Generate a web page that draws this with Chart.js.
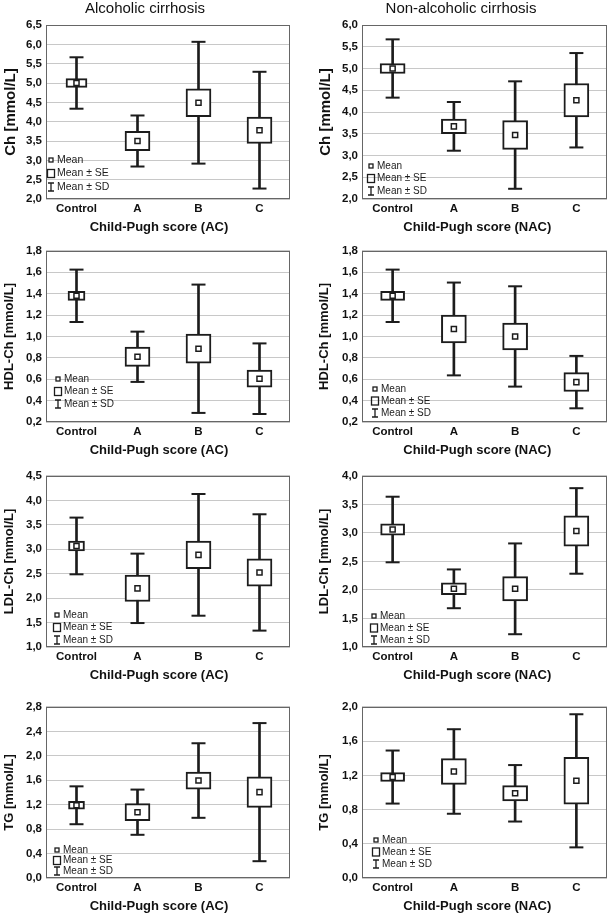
<!DOCTYPE html>
<html>
<head>
<meta charset="utf-8">
<title>Lipids by Child-Pugh score</title>
<script src="https://cdn.jsdelivr.net/npm/chart.js@4.4.1/dist/chart.umd.min.js"></script>
<style>
  html, body { margin: 0; padding: 0; background: #fff; }
  body { width: 610px; height: 913px; overflow: hidden; position: relative; }
  .panel { position: absolute; }
</style>
</head>
<body>
<script>
// ---- data (mean, SE, SD per group) ----
const groups = ['Control', 'A', 'B', 'C'];

const chAcMean = [5.00, 3.50, 4.49, 3.78];
const chAcSe   = [0.115, 0.25, 0.36, 0.34];
const chAcSd   = [0.665, 0.66, 1.575, 1.51];
const chNacMean = [5.00, 3.67, 3.47, 4.27];
const chNacSe   = [0.115, 0.17, 0.33, 0.385];
const chNacSd   = [0.67, 0.56, 1.235, 1.085];

const hdlAcMean = [1.38, 0.81, 0.885, 0.605];
const hdlAcSe   = [0.043, 0.09, 0.136, 0.08];
const hdlAcSd   = [0.245, 0.235, 0.60, 0.33];
const hdlNacMean = [1.38, 1.07, 1.00, 0.573];
const hdlNacSe   = [0.043, 0.13, 0.125, 0.088];
const hdlNacSd   = [0.245, 0.434, 0.469, 0.245];

const ldlAcMean = [3.067, 2.20, 2.885, 2.525];
const ldlAcSe   = [0.10, 0.27, 0.283, 0.28];
const ldlAcSd   = [0.58, 0.71, 1.245, 1.19];
const ldlNacMean = [3.06, 2.02, 2.02, 3.035];
const ldlNacSe   = [0.10, 0.104, 0.213, 0.265];
const ldlNacSd   = [0.575, 0.34, 0.796, 0.75];

const tgAcMean = [1.19, 1.077, 1.595, 1.405];
const tgAcSe   = [0.064, 0.14, 0.14, 0.25];
const tgAcSd   = [0.31, 0.37, 0.61, 1.13];
const tgNacMean = [1.18, 1.245, 0.99, 1.136];
const tgNacSe   = [0.052, 0.15, 0.09, 0.274];
const tgNacSd   = [0.31, 0.494, 0.33, 0.778];

// y axis [min, max, step]
const chAcAxis   = [2.0, 6.5, 0.5];
const chNacAxis  = [2.0, 6.0, 0.5];
const hdlAxis    = [0.2, 1.8, 0.2];
const ldlAcAxis  = [1.0, 4.5, 0.5];
const ldlNacAxis = [1.0, 4.0, 0.5];
const tgAcAxis   = [0.0, 2.8, 0.4];
const tgNacAxis  = [0.0, 2.0, 0.4];

const columnTitles = ['Alcoholic cirrhosis', 'Non-alcoholic cirrhosis'];
const xTitles = ['Child-Pugh score (AC)', 'Child-Pugh score (NAC)'];
const yTitles = ['Ch [mmol/L]', 'HDL-Ch [mmol/L]', 'LDL-Ch [mmol/L]', 'TG [mmol/L]'];
const legendLabels = ['Mean', 'Mean \u00b1 SE', 'Mean \u00b1 SD'];

// ---- look ----
const ink = '#1c1c1c';
const FONT = 'Arial, "Liberation Sans", sans-serif';
Chart.defaults.font.family = FONT;
Chart.defaults.color = '#111';

const chartTop = [25, 248, 473, 704];   // plot area top per row (page px)
const yTitleSize = [15, 13, 13, 13];
const xTitleShift = [5, 4];              // the x titles sit a little left of centre

const panels = [
  { row: 0, col: 0, mean: chAcMean, se: chAcSe, sd: chAcSd, axis: chAcAxis, boxW: [21, 25, 25, 25], leg: { dx: 5, dy: 12, gap: 13.5, size: 10.5 } },
  { row: 0, col: 1, mean: chNacMean, se: chNacSe, sd: chNacSd, axis: chNacAxis, boxW: [25, 25, 25, 25], leg: { dx: 9, dy: 8, gap: 12.5, size: 10 } },
  { row: 1, col: 0, mean: hdlAcMean, se: hdlAcSe, sd: hdlAcSd, axis: hdlAxis, boxW: [17, 25, 25, 25], leg: { dx: 12, dy: 18, gap: 12.5, size: 10 } },
  { row: 1, col: 1, mean: hdlNacMean, se: hdlNacSe, sd: hdlNacSd, axis: hdlAxis, boxW: [24, 25, 25, 25], leg: { dx: 13, dy: 9, gap: 12, size: 10 } },
  { row: 2, col: 0, mean: ldlAcMean, se: ldlAcSe, sd: ldlAcSd, axis: ldlAcAxis, boxW: [16, 25, 25, 25], leg: { dx: 11, dy: 7, gap: 12.5, size: 10 } },
  { row: 2, col: 1, mean: ldlNacMean, se: ldlNacSe, sd: ldlNacSd, axis: ldlNacAxis, boxW: [24, 25, 25, 25], leg: { dx: 12, dy: 7, gap: 12, size: 10 } },
  { row: 3, col: 0, mean: tgAcMean, se: tgAcSe, sd: tgAcSd, axis: tgAcAxis, boxW: [16, 25, 25, 25], leg: { dx: 11, dy: 7, gap: 10.5, size: 10 } },
  { row: 3, col: 1, mean: tgNacMean, se: tgNacSe, sd: tgNacSd, axis: tgNacAxis, boxW: [24, 25, 25, 25], leg: { dx: 14, dy: 14, gap: 12, size: 10 } }
];

// grey frame round the plot area
const plotFrame = {
  id: 'plotFrame',
  afterDatasetsDraw(chart) {
    const { ctx, chartArea: a } = chart;
    ctx.save();
    ctx.strokeStyle = '#666';
    ctx.lineWidth = 1;
    ctx.strokeRect(Math.round(a.left) + 0.5, Math.round(a.top) + 0.5,
                   Math.round(a.width) - 1, Math.round(a.height) - 1);
    ctx.restore();
  }
};

// Statistica style key in the lower left of the plot
const statLegend = {
  id: 'statLegend',
  afterDraw(chart, args, opts) {
    if (!opts.labels) return;
    const { ctx, chartArea } = chart;
    const cx = chartArea.left + opts.dx;
    ctx.save();
    ctx.font = opts.size + 'px ' + FONT;
    ctx.textBaseline = 'middle';
    ctx.strokeStyle = ink;
    ctx.lineWidth = 1.3;
    opts.labels.forEach((text, i) => {
      const y = chartArea.bottom - opts.dy - (opts.labels.length - 1 - i) * opts.gap;
      if (i === 0) {
        ctx.fillStyle = '#fff';
        ctx.fillRect(cx - 2, y - 2, 4, 4);
        ctx.strokeRect(cx - 2, y - 2, 4, 4);
      } else if (i === 1) {
        ctx.strokeRect(cx - 3.5, y - 4, 7, 8);
      } else {
        ctx.beginPath();
        ctx.moveTo(cx - 3, y - 4); ctx.lineTo(cx + 3, y - 4);
        ctx.moveTo(cx, y - 4); ctx.lineTo(cx, y + 4);
        ctx.moveTo(cx - 3, y + 4); ctx.lineTo(cx + 3, y + 4);
        ctx.stroke();
      }
      ctx.fillStyle = ink;
      ctx.fillText(text, cx + 6, y);
    });
    ctx.restore();
  }
};

const fmt = v => v.toFixed(1).replace('.', ',');

panels.forEach(p => {
  const first = p.row === 0;
  const padTop = first ? 0 : 8;
  const w = 305;
  const h = first ? 235 : 218;
  const left = p.col ? 315 : 0;
  const top = first ? 0 : chartTop[p.row] - padTop;

  const div = document.createElement('div');
  div.className = 'panel';
  div.style.left = left + 'px';
  div.style.top = top + 'px';
  const canvas = document.createElement('canvas');
  canvas.width = w;
  canvas.height = h;
  div.appendChild(canvas);
  document.body.appendChild(div);

  const m = p.mean, se = p.se, sd = p.sd;

  const datasets = [
    { // mean marker
      type: 'line', data: m, showLine: false, order: 0,
      pointStyle: 'rect', pointRadius: 3.6,
      pointBackgroundColor: '#fff', pointBorderColor: ink, pointBorderWidth: 1.5
    },
    { // upper SD cap
      type: 'line', data: m.map((v, i) => v + sd[i]), showLine: false, order: 1,
      pointStyle: 'line', pointRadius: 7, pointBorderColor: ink, pointBorderWidth: 2
    },
    { // lower SD cap
      type: 'line', data: m.map((v, i) => v - sd[i]), showLine: false, order: 1,
      pointStyle: 'line', pointRadius: 7, pointBorderColor: ink, pointBorderWidth: 2
    }
  ];
  // SE boxes, one dataset per group so widths can differ
  groups.forEach((g, k) => {
    datasets.push({
      type: 'bar', order: 2, grouped: false,
      data: groups.map((_, i) => i === k ? [m[i] - se[i], m[i] + se[i]] : null),
      barThickness: p.boxW[k],
      backgroundColor: '#fff', borderColor: ink, borderWidth: 2, borderSkipped: false
    });
  });
  // SD whisker line
  datasets.push({
    type: 'bar', order: 3, grouped: false,
    data: m.map((v, i) => [v - sd[i], v + sd[i]]),
    barThickness: 2, backgroundColor: ink, borderWidth: 0
  });

  new Chart(canvas, {
    type: 'bar',
    data: { labels: groups, datasets: datasets },
    plugins: [plotFrame, statLegend],
    options: {
      responsive: false,
      animation: false,
      events: [],
      layout: { padding: { top: padTop, right: p.col ? 13 : 15, left: 0, bottom: 0 } },
      plugins: {
        legend: { display: false },
        tooltip: { enabled: false },
        title: {
          display: first,
          text: columnTitles[p.col],
          color: '#111',
          font: { size: 15, weight: 'normal' },
          padding: { top: 0, bottom: 7 }
        },
        statLegend: { labels: legendLabels, ...p.leg }
      },
      scales: {
        x: {
          type: 'category',
          grid: { display: false, drawTicks: false },
          border: { display: false },
          ticks: { font: { size: 11.5, weight: 'bold' }, color: '#111', padding: 3, maxRotation: 0 },
          title: {
            display: true,
            text: xTitles[p.col] + ' '.repeat(xTitleShift[p.col]),
            font: { size: 13, weight: 'bold' }, color: '#111',
            padding: { top: 4, bottom: 0 }
          },
          afterFit: s => { s.height = 36; }
        },
        y: {
          min: p.axis[0],
          max: p.axis[1],
          grid: { color: '#c8c8c8', lineWidth: 1, drawTicks: false },
          border: { display: false },
          ticks: { stepSize: p.axis[2], callback: v => fmt(v), font: { size: 11.5, weight: 'bold' }, color: '#111', padding: 4 },
          title: { display: true, text: yTitles[p.row], font: { size: yTitleSize[p.row], weight: 'bold' }, color: '#111', padding: { top: 2, bottom: 0 } },
          afterFit: s => { s.width = p.col ? 47 : 46; }
        }
      }
    }
  });
});
</script>
</body>
</html>
